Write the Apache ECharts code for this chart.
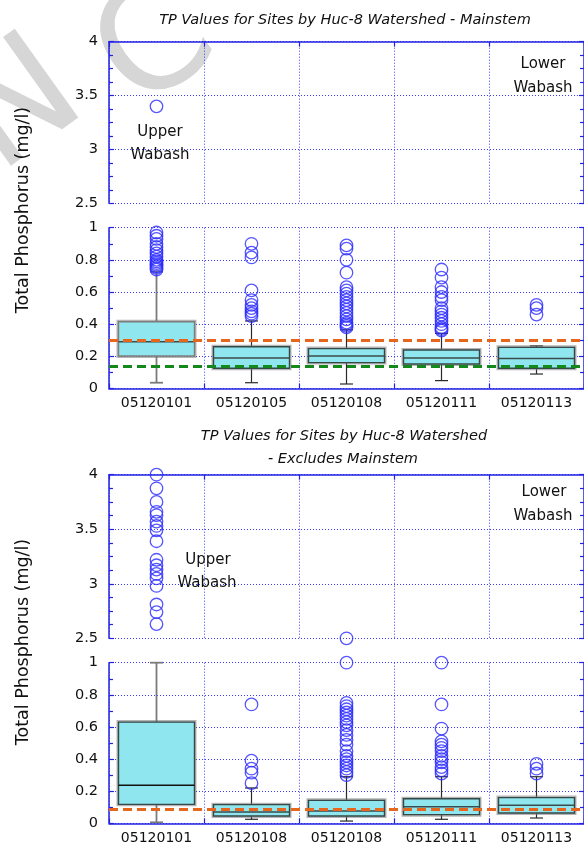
<!DOCTYPE html>
<html><head><meta charset="utf-8">
<script src="https://cdn.jsdelivr.net/npm/echarts@6/dist/echarts.min.js"></script>
<style>html,body{margin:0;padding:0;background:#fff}#c{width:584px;height:847px}</style>
</head><body><div id="c"></div>
<script>
// ---------- data ----------
const topCategories = ['05120101', '05120105', '05120108', '05120111', '05120113'];
const bottomCategories = ['05120101', '05120108', '05120108', '05120111', '05120113'];

// [min, Q1, median, Q3, max]
const topBoxes = [
  [0.036, 0.202, 0.290, 0.415, 0.726],
  [0.036, 0.126, 0.190, 0.260, 0.420],
  [0.028, 0.161, 0.202, 0.248, 0.365],
  [0.049, 0.152, 0.190, 0.239, 0.343],
  [0.090, 0.126, 0.186, 0.256, 0.265]
];
const bottomBoxes = [
  [0.006, 0.118, 0.237, 0.630, 1.000],
  [0.025, 0.045, 0.070, 0.116, 0.220],
  [0.014, 0.045, 0.077, 0.143, 0.290],
  [0.025, 0.054, 0.103, 0.153, 0.290],
  [0.033, 0.064, 0.112, 0.160, 0.290]
];

const topOutliers = [
  [3.40, 0.97, 0.95, 0.93, 0.90, 0.88, 0.86, 0.84, 0.82, 0.80, 0.79, 0.78, 0.77, 0.76, 0.75, 0.74],
  [0.90, 0.845, 0.815, 0.61, 0.55, 0.52, 0.50, 0.48, 0.465, 0.45],
  [0.89, 0.87, 0.80, 0.72, 0.63, 0.61, 0.59, 0.57, 0.55, 0.53, 0.51, 0.49, 0.47, 0.45, 0.43, 0.41, 0.40, 0.39, 0.38],
  [0.74, 0.69, 0.63, 0.60, 0.57, 0.55, 0.50, 0.48, 0.46, 0.44, 0.42, 0.40, 0.38, 0.37, 0.36],
  [0.52, 0.50, 0.46]
];
const bottomOutliers = [
  [4.00, 3.875, 3.75, 3.66, 3.63, 3.57, 3.53, 3.49, 3.39, 3.22, 3.17, 3.13, 3.09, 3.05, 2.98, 2.81, 2.74, 2.63],
  [0.74, 0.39, 0.34, 0.315, 0.25],
  [2.50, 1.00, 0.75, 0.73, 0.71, 0.69, 0.67, 0.65, 0.63, 0.61, 0.58, 0.55, 0.52, 0.49, 0.45, 0.42, 0.40, 0.38, 0.36, 0.34, 0.32, 0.30],
  [1.00, 0.74, 0.59, 0.51, 0.49, 0.47, 0.45, 0.42, 0.40, 0.38, 0.35, 0.33, 0.31],
  [0.37, 0.34, 0.31]
];

const topRefValues = [0.30, 0.145];   // orange, green
const bottomRefValues = [0.094];      // orange

const upperRange = { min: 2.5, max: 4, interval: 0.5, minor: 4 };
const lowerRange = { min: 0, max: 1, interval: 0.2, minor: 2 };
const breakValue = 1.2;

// ---------- styling ----------
const FONT = 'DejaVu Sans';
const AX = '#2222e4';
const GRIDC = '#3a3aff';
const ORANGE = '#e8651c';
const GREEN = '#13881b';

const gridDefs = [
  { left: 109, width: 477, top: 41.7, height: 161.6 },
  { left: 109, width: 477, top: 227.7, height: 160.8 },
  { left: 109, width: 477, top: 474.7, height: 163.6 },
  { left: 109, width: 477, top: 662.7, height: 160.6 }
];

function xAx(gi, cats, isUpper) {
  return {
    type: 'category', gridIndex: gi, data: cats, position: isUpper ? 'top' : 'bottom',
    boundaryGap: true,
    axisLine: { show: true, onZero: false, lineStyle: { color: AX, width: 1.5 } },
    axisTick: { show: true, inside: true, length: 5, lineStyle: { color: AX, width: 1.2 } },
    axisLabel: { show: !isUpper, interval: 0, color: '#111', fontFamily: FONT, fontSize: 14, margin: 8 },
    splitLine: { show: true, lineStyle: { color: GRIDC, type: [1, 2], width: 1 } }
  };
}
function yAx(gi, r, pos) {
  const left = pos === 'left';
  return {
    type: 'value', gridIndex: gi, position: pos, min: r.min, max: r.max, interval: r.interval,
    axisLine: { show: true, onZero: false, lineStyle: { color: AX, width: 1.5 } },
    axisTick: { show: true, inside: true, length: 5, lineStyle: { color: AX, width: 1.2 } },
    minorTick: { show: true, splitNumber: r.minor, length: 4, lineStyle: { color: AX, width: 1.2 } },
    axisLabel: { show: left, color: '#111', fontFamily: FONT, fontSize: 14.5, margin: 11 },
    splitLine: { show: left, lineStyle: { color: GRIDC, type: [1, 2], width: 1 } }
  };
}

const xAxes = [
  xAx(0, topCategories, true), xAx(1, topCategories, false),
  xAx(2, bottomCategories, true), xAx(3, bottomCategories, false)
];
const yAxes = [];
[upperRange, lowerRange, upperRange, lowerRange].forEach((r, gi) => {
  yAxes.push(yAx(gi, r, 'left'));
  yAxes.push(yAx(gi, r, 'right'));
});

function boxRender(params, api) {
  const x = api.value(0);
  const p = [1, 2, 3, 4, 5].map(i => api.coord([x, api.value(i)]));
  const band = api.size([1, 0])[0];
  const bw = band * 0.8;
  const cx = p[0][0];
  const capHalf = 6.5;
  const first = params.dataIndex === 0;
  const isTop = params.seriesIndex === 0;
  const whiskerColor = first ? '#7b7b7b' : '#2a2a2a';
  const whiskerWidth = first ? 1.8 : 1.2;
  const boxStroke = (first && isTop) ? '#7d7d7d' : '#344848';
  const yQ3 = p[3][1], yQ1 = p[1][1];
  return {
    type: 'group',
    children: [
      { type: 'line', shape: { x1: cx, y1: p[0][1], x2: cx, y2: yQ1 }, style: { stroke: whiskerColor, lineWidth: whiskerWidth } },
      { type: 'line', shape: { x1: cx, y1: yQ3, x2: cx, y2: p[4][1] }, style: { stroke: whiskerColor, lineWidth: whiskerWidth } },
      { type: 'line', shape: { x1: cx - capHalf, y1: p[0][1], x2: cx + capHalf, y2: p[0][1] }, style: { stroke: whiskerColor, lineWidth: whiskerWidth } },
      { type: 'line', shape: { x1: cx - capHalf, y1: p[4][1], x2: cx + capHalf, y2: p[4][1] }, style: { stroke: whiskerColor, lineWidth: whiskerWidth } },
      { type: 'rect', shape: { x: cx - bw / 2, y: yQ3, width: bw, height: yQ1 - yQ3 }, style: { fill: 'none', stroke: 'rgba(120,120,120,0.55)', lineWidth: 4 } },
      { type: 'rect', shape: { x: cx - bw / 2, y: yQ3, width: bw, height: yQ1 - yQ3 }, style: { fill: '#8fe6ef', stroke: boxStroke, lineWidth: 1.4 } },
      { type: 'line', shape: { x1: cx - bw / 2, y1: p[2][1], x2: cx + bw / 2, y2: p[2][1] }, style: { stroke: (first && !isTop) ? '#111' : '#3a4c4c', lineWidth: 1.5 } }
    ]
  };
}

function boxSeries(xi, yi, boxes) {
  return {
    type: 'custom', xAxisIndex: xi, yAxisIndex: yi, z: 2, animation: false, silent: true,
    renderItem: boxRender,
    encode: { x: 0, y: [1, 2, 3, 4, 5] },
    data: boxes.map((b, i) => [i].concat(b))
  };
}

function pts(outliers, upper) {
  const out = [];
  outliers.forEach((vals, i) => vals.forEach(v => {
    if ((v > breakValue) === upper) out.push([i, v]);
  }));
  return out;
}

const circleStyle = { color: 'rgba(255,255,255,0)', borderColor: '#2b2bff', borderWidth: 1.3 };

function scatterSeries(xi, yi, data, refs, refColors) {
  const s = {
    type: 'scatter', xAxisIndex: xi, yAxisIndex: yi, z: 4, clip: false, animation: false, silent: true,
    symbol: 'circle', symbolSize: 12.5, itemStyle: circleStyle, data: data
  };
  if (refs) {
    s.markLine = {
      silent: true, animation: false, symbol: ['none', 'none'], label: { show: false },
      data: refs.map((v, k) => ({ yAxis: v, lineStyle: { color: refColors[k], width: 3, type: [9, 5] } }))
    };
  }
  return s;
}

const series = [
  boxSeries(1, 2, topBoxes),
  boxSeries(3, 6, bottomBoxes),
  scatterSeries(1, 2, pts(topOutliers, false), topRefValues, [ORANGE, GREEN]),
  scatterSeries(0, 0, pts(topOutliers, true)),
  scatterSeries(3, 6, pts(bottomOutliers, false), bottomRefValues, [ORANGE]),
  scatterSeries(2, 4, pts(bottomOutliers, true))
];

function txt(x, y, text, size, opts) {
  return Object.assign({
    type: 'text', x: x, y: y, silent: true, z: 10,
    style: { text: text, fill: '#111', font: (opts && opts.italic ? 'italic ' : '') + size + 'px "' + FONT + '"', textAlign: 'center', textVerticalAlign: 'middle' }
  }, opts && opts.rotation !== undefined ? { rotation: opts.rotation } : {});
}

function mark(x, y, ch) {
  return { type: 'text', x: x, y: y, rotation: 0.62, z: -5, silent: true,
    style: { text: ch, fill: '#d6d6d6', font: '150px "DejaVu Sans"', textAlign: 'center', textVerticalAlign: 'middle' } };
}

const graphic = [
  mark(22, 110, 'N'),
  mark(158, 50, 'C'),
  txt(345, 20, 'TP Values for Sites by Huc-8 Watershed - Mainstem', 14.5, { italic: true }),
  txt(344, 436, 'TP Values for Sites by Huc-8 Watershed', 14.5, { italic: true }),
  txt(343, 459, '- Excludes Mainstem', 14.5, { italic: true }),
  txt(23, 210, 'Total Phosphorus (mg/l)', 17.5, { rotation: Math.PI / 2 }),
  txt(23, 642, 'Total Phosphorus (mg/l)', 17.5, { rotation: Math.PI / 2 }),
  txt(160, 132, 'Upper', 15), txt(160, 155, 'Wabash', 15),
  txt(543, 64, 'Lower', 15), txt(543, 88, 'Wabash', 15),
  txt(208, 560, 'Upper', 15), txt(207, 583, 'Wabash', 15),
  txt(544, 492, 'Lower', 15), txt(543, 516, 'Wabash', 15)
];

const chart = echarts.init(document.getElementById('c'), null, { renderer: 'canvas' });
chart.setOption({
  animation: false,
  backgroundColor: '#fff',
  grid: gridDefs,
  xAxis: xAxes,
  yAxis: yAxes,
  series: series,
  graphic: graphic
});
</script></body></html>
